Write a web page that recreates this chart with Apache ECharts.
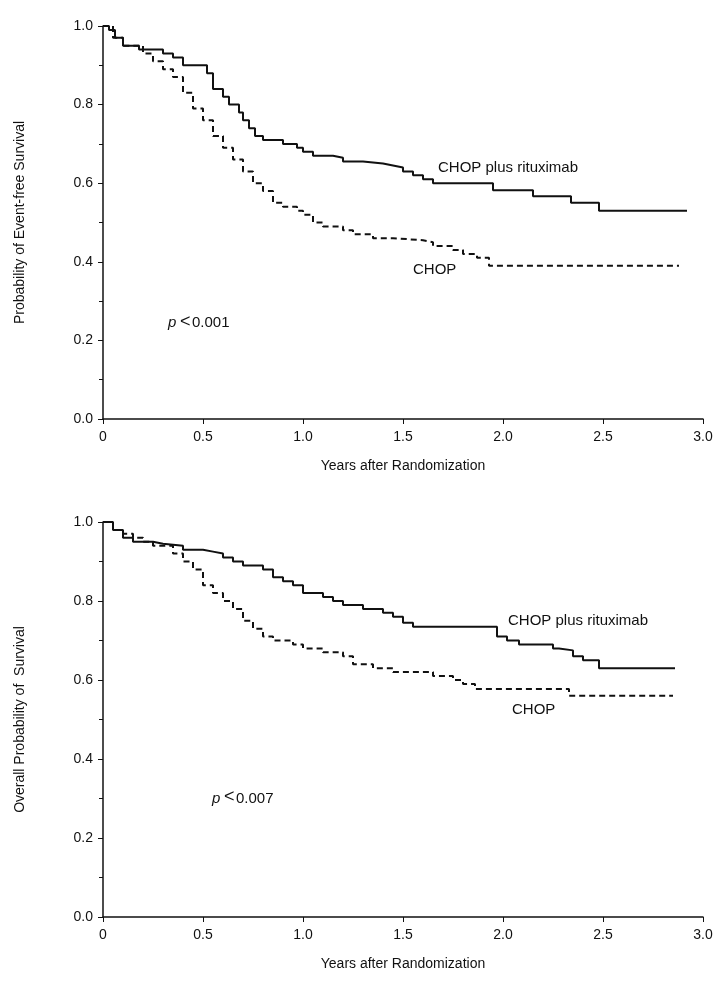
<!DOCTYPE html>
<html><head><meta charset="utf-8">
<script src="https://cdn.jsdelivr.net/npm/echarts@6/dist/echarts.min.js"></script>
<style>html,body{margin:0;background:#fff}#c{width:720px;height:992px}</style>
</head><body><div id="c"></div>
<script>
// 曲线数据：[年, 生存概率]
const efsRchop = [[0,1],[0.03,0.99],[0.06,0.97],[0.1,0.95],[0.18,0.94],[0.3,0.93],[0.35,0.92],[0.4,0.9],[0.52,0.88],[0.55,0.84],[0.6,0.82],[0.63,0.8],[0.68,0.78],[0.7,0.76],[0.73,0.74],[0.76,0.72],[0.8,0.71],[0.9,0.7],[0.97,0.69],[1.0,0.68],[1.05,0.67],[1.15,0.665],[1.2,0.655],[1.3,0.65],[1.4,0.645],[1.45,0.64],[1.5,0.63],[1.55,0.62],[1.6,0.61],[1.65,0.6],[1.95,0.582],[2.15,0.567],[2.34,0.55],[2.48,0.53],[2.92,0.53]];
const efsChop = [[0,1],[0.05,0.97],[0.1,0.95],[0.2,0.93],[0.25,0.91],[0.3,0.89],[0.35,0.87],[0.4,0.83],[0.45,0.79],[0.5,0.76],[0.55,0.72],[0.6,0.69],[0.65,0.66],[0.7,0.63],[0.75,0.6],[0.8,0.58],[0.85,0.55],[0.9,0.54],[0.97,0.53],[1.0,0.52],[1.05,0.5],[1.1,0.49],[1.2,0.48],[1.25,0.47],[1.35,0.46],[1.45,0.455],[1.6,0.45],[1.65,0.44],[1.75,0.43],[1.8,0.42],[1.87,0.41],[1.93,0.39],[2.88,0.39]];
const osRchop = [[0,1],[0.05,0.98],[0.1,0.96],[0.15,0.95],[0.25,0.945],[0.3,0.94],[0.4,0.93],[0.5,0.925],[0.55,0.92],[0.6,0.91],[0.65,0.9],[0.7,0.89],[0.8,0.88],[0.85,0.86],[0.9,0.85],[0.95,0.84],[1.0,0.82],[1.1,0.81],[1.15,0.8],[1.2,0.79],[1.3,0.78],[1.4,0.77],[1.45,0.76],[1.5,0.745],[1.55,0.735],[1.97,0.71],[2.02,0.7],[2.08,0.69],[2.25,0.68],[2.28,0.675],[2.35,0.66],[2.4,0.65],[2.48,0.63],[2.86,0.63]];
const osChop = [[0,1],[0.05,0.98],[0.1,0.97],[0.15,0.96],[0.2,0.95],[0.25,0.94],[0.35,0.92],[0.4,0.9],[0.45,0.88],[0.5,0.84],[0.55,0.82],[0.6,0.8],[0.65,0.78],[0.7,0.75],[0.75,0.73],[0.8,0.71],[0.85,0.7],[0.95,0.69],[1.0,0.68],[1.1,0.67],[1.2,0.66],[1.25,0.64],[1.35,0.63],[1.45,0.62],[1.65,0.61],[1.75,0.6],[1.8,0.59],[1.86,0.577],[2.33,0.56],[2.85,0.56]];
const yTitles = ['Probability of Event-free Survival', 'Overall Probability of  Survival'];
const xTitle = 'Years after Randomization';

const FONT = 'Liberation Sans, Arial, sans-serif';
const grids = [
  { left: 103, top: 26, width: 600, height: 393 },
  { left: 103, top: 522, width: 600, height: 395 },
];
const xAxis = grids.map((g, i) => ({
  type: 'value', gridIndex: i, min: 0, max: 3, interval: 0.5,
  name: xTitle, nameLocation: 'middle', nameGap: 40,
  nameTextStyle: { color: '#111', fontSize: 14, fontFamily: FONT },
  axisLine: { lineStyle: { color: '#111', width: 1.5 } },
  axisTick: { length: 5, lineStyle: { color: '#111' } },
  axisLabel: { color: '#111', fontSize: 14, fontFamily: FONT, margin: 11,
    formatter: v => v === 0 ? '0' : v.toFixed(1) },
  splitLine: { show: false },
}));
const yAxis = grids.map((g, i) => ({
  type: 'value', gridIndex: i, min: 0, max: 1, interval: 0.2,
  name: yTitles[i], nameLocation: 'middle', nameGap: 76, nameRotate: 90,
  nameTextStyle: { color: '#111', fontSize: 14, fontFamily: FONT },
  axisLine: { show: true, lineStyle: { color: '#111', width: 1.5 } },
  axisTick: { length: 5, lineStyle: { color: '#111' } },
  minorTick: { show: true, splitNumber: 2, length: 4, lineStyle: { color: '#111' } },
  axisLabel: { color: '#111', fontSize: 14, fontFamily: FONT, margin: 10,
    formatter: v => v.toFixed(1) },
  splitLine: { show: false },
}));
const line = (data, i, dashed) => ({
  type: 'line', xAxisIndex: i, yAxisIndex: i, data, step: 'end',
  symbol: 'none', silent: true,
  lineStyle: { color: '#111', width: 2, type: dashed ? [6, 4] : 'solid' },
});

const chart = echarts.init(document.getElementById('c'));
chart.setOption({
  animation: false,
  grid: grids,
  xAxis, yAxis,
  series: [line(efsRchop, 0, false), line(efsChop, 0, true), line(osRchop, 1, false), line(osChop, 1, true)],
});

// 注释文字按数据坐标定位
const at = (i, pt) => chart.convertToPixel({ gridIndex: i }, pt);
const txt = (i, pt, s) => {
  const [x, y] = at(i, pt);
  return { type: 'text', x, y, style: { text: s, fill: '#111', font: '15px ' + FONT, verticalAlign: 'middle' } };
};
const ptxt = (i, pt, s) => {
  const [x, y] = at(i, pt);
  return { type: 'group', x, y, children: [
    { type: 'text', style: { text: 'p', fill: '#111', font: 'italic 15px ' + FONT, verticalAlign: 'middle' } },
    { type: 'text', x: 12, y: -1, style: { text: '<', fill: '#111', font: '18px ' + FONT, verticalAlign: 'middle' } },
    { type: 'text', x: 24, style: { text: s, fill: '#111', font: '15px ' + FONT, verticalAlign: 'middle' } },
  ] };
};
chart.setOption({ graphic: [
  txt(0, [1.675, 0.64], 'CHOP plus rituximab'), txt(0, [1.55, 0.38], 'CHOP'), ptxt(0, [0.325, 0.245], '0.001'),
  txt(1, [2.025, 0.75], 'CHOP plus rituximab'), txt(1, [2.045, 0.524], 'CHOP'), ptxt(1, [0.545, 0.30], '0.007'),
] });
</script></body></html>
